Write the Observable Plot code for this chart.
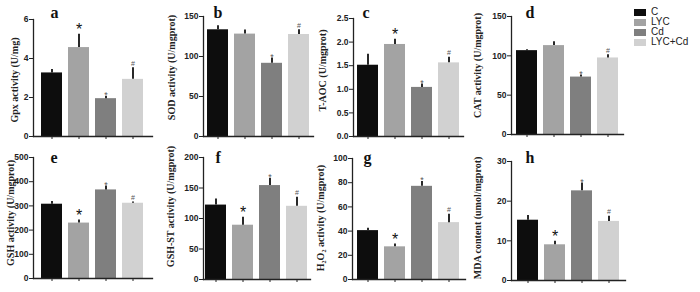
<!DOCTYPE html>
<html>
<head>
<meta charset="utf-8">
<script src="https://cdn.jsdelivr.net/npm/d3@7"></script>
<script src="https://cdn.jsdelivr.net/npm/@observablehq/plot@0.6"></script>
<style>
  body { margin: 0; background: #fff; }
  #wrap { position: relative; width: 700px; height: 292px; overflow: hidden; background: #fff; }
  #legend { position: absolute; left: 634px; top: 7px; font-family: "Liberation Sans", Arial, sans-serif; font-size: 10px; line-height: 10px; color: #222; }
  #legend .row { display: flex; align-items: center; height: 10px; }
  #legend .sw { width: 12px; height: 7px; margin-right: 5px; }
  #legend span { display: block; height: 10px; line-height: 10px; }
</style>
</head>
<body>
<div id="wrap"><div id="legend"></div></div>
<script>
// ---- data ----
const groups = ["C", "LYC", "Cd", "LYC+Cd"];
const fills = ["#0d0d0d", "#a3a3a3", "#7f7f7f", "#d1d1d1"];
const panelLetters = ["a", "b", "c", "d", "e", "f", "g", "h"];
const yTitles = [
  "Gpx activity (U/mg)",
  "SOD activity (U/mgprot)",
  "T-AOC (U/mgprot)",
  "CAT activity (U/mgprot)",
  "GSH activity (U/mgprot)",
  "GSH-ST activity (U/mgprot)",
  "H\u2082O\u2082 activity (U/mgprot)",
  "MDA content (umol/mgprot)"
];

const gpxMean = [3.26, 4.56, 1.94, 2.93];
const gpxErr  = [0.17, 0.69, 0.13, 0.59];
const gpxSig  = ["", "*", "*", "#"];
const gpxTicks = [0, 2, 4, 6];

const sodMean = [133.4, 128.0, 91.5, 127.5];
const sodErr  = [5.0, 5.0, 6.5, 6.0];
const sodSig  = ["", "", "*", "#"];
const sodTicks = [0, 50, 100, 150];

const taocMean = [1.51, 1.95, 1.04, 1.56];
const taocErr  = [0.23, 0.11, 0.07, 0.12];
const taocSig  = ["", "*", "*", "#"];
const taocTicks = [0, 0.5, 1.0, 1.5, 2.0, 2.5];

const catMean = [106.6, 113.0, 73.0, 97.3];
const catErr  = [1.0, 5.0, 2.5, 4.0];
const catSig  = ["", "", "*", "#"];
const catTicks = [0, 50, 100, 150];

const gshMean = [307, 229, 366, 311];
const gshErr  = [11, 13, 16, 5];
const gshSig  = ["", "*", "*", "#"];
const gshTicks = [0, 100, 200, 300, 400, 500];

const gstMean = [122, 89, 154, 120];
const gstErr  = [10, 13, 12, 15];
const gstSig  = ["", "*", "*", "#"];
const gstTicks = [0, 50, 100, 150, 200];

const h2o2Mean = [40.4, 27.0, 77.0, 47.0];
const h2o2Err  = [2.0, 2.3, 4.0, 7.0];
const h2o2Sig  = ["", "*", "*", "#"];
const h2o2Ticks = [0, 20, 40, 60, 80, 100];

const mdaMean = [15.2, 9.0, 22.6, 14.9];
const mdaErr  = [1.2, 0.9, 2.0, 1.3];
const mdaSig  = ["", "*", "*", "#"];
const mdaTicks = [0, 10, 20, 30];

const means = [gpxMean, sodMean, taocMean, catMean, gshMean, gstMean, h2o2Mean, mdaMean];
const errs  = [gpxErr, sodErr, taocErr, catErr, gshErr, gstErr, h2o2Err, mdaErr];
const sigs  = [gpxSig, sodSig, taocSig, catSig, gshSig, gstSig, h2o2Sig, mdaSig];
const ticks = [gpxTicks, sodTicks, taocTicks, catTicks, gshTicks, gstTicks, h2o2Ticks, mdaTicks];
const tickFmts = [null, null, ".1f", null, null, null, null, null];

// ---- layout (pixels) ----
const layout = [
  {row: 0, axisX: 33,  ml: 33, F: 119, po: 0.25,  top: 19, zero: 136, ldx: -19, ldy: 2,   tdx: 17},
  {row: 0, axisX: 203, ml: 40, F: 110, po: 0.08,  top: 16, zero: 136, ldx: -32, ldy: -9,  tdx: 10},
  {row: 0, axisX: 353, ml: 40, F: 110, po: 0.145, top: 18, zero: 136, ldx: -31, ldy: -7,  tdx: 9},
  {row: 0, axisX: 511, ml: 40, F: 112, po: 0.13,  top: 16, zero: 134, ldx: -34, ldy: -10, tdx: 14},
  {row: 1, axisX: 33,  ml: 33, F: 119, po: 0.25,  top: 11, zero: 132, ldx: -23, ldy: -5,  tdx: 17},
  {row: 1, axisX: 203, ml: 40, F: 107, po: 0.09,  top: 11, zero: 133, ldx: -33, ldy: -12, tdx: 12},
  {row: 1, axisX: 352, ml: 40, F: 113, po: 0.18,  top: 12, zero: 133, ldx: -32, ldy: -1,  tdx: 11},
  {row: 1, axisX: 511, ml: 40, F: 114, po: 0.22,  top: 15, zero: 134, ldx: -34, ldy: -3,  tdx: 14}
];
const titleBaseline = [17, 16];

const wrap = document.getElementById("wrap");
const H = 146;
const serif = "'Liberation Serif', 'Times New Roman', serif";

panelLetters.forEach((id, i) => {
  const L = layout[i];
  const data = groups.map((g, j) => ({g, v: means[i][j], e: errs[i][j], s: sigs[i][j]}));
  const T = ticks[i];
  const width = L.ml + L.F + 4;
  const svg = Plot.plot({
    width, height: H,
    marginLeft: L.ml, marginRight: 4, marginTop: L.top, marginBottom: H - L.zero,
    style: {fontFamily: "'Liberation Sans', Arial, sans-serif", background: "transparent", overflow: "visible", color: "#222"},
    x: {domain: groups, paddingInner: 0.22, paddingOuter: L.po, axis: null},
    y: {domain: [0, T[T.length - 1]], axis: null},
    color: {domain: groups, range: fills},
    marks: [
      Plot.barY(data, {x: "g", y: "v", fill: "g"}),
      Plot.ruleX(data, {x: "g", y1: "v", y2: d => d.v + d.e, stroke: "#111", strokeWidth: 1.8}),
      Plot.ruleY(data, {x: "g", y: d => d.v + d.e, insetLeft: 7, insetRight: 7, stroke: "#111", strokeWidth: 1.8}),
      Plot.text(data, {filter: d => d.s === "*" && d.g === "LYC", x: "g", y: d => d.v + d.e, text: "s", lineAnchor: "bottom", dy: 1, fontSize: 16, fill: "#111"}),
      Plot.text(data, {filter: d => d.s === "*" && d.g !== "LYC", x: "g", y: d => d.v + d.e, text: "s", lineAnchor: "bottom", dy: 2, fontSize: 9, fill: "#555"}),
      Plot.text(data, {filter: d => d.s === "#", x: "g", y: d => d.v + d.e, text: "s", lineAnchor: "bottom", dy: -2, fontSize: 7, fill: "#555"}),
      Plot.frame({anchor: "left", stroke: "#222", strokeWidth: 1.3}),
      Plot.frame({anchor: "bottom", stroke: "#222", strokeWidth: 1.3}),
      Plot.axisY({ticks: T, tickSize: 4, tickPadding: 1, tickFormat: tickFmts[i] ? d3.format(tickFmts[i]) : (d => String(d)), fontSize: 8.5, fontWeight: "bold", label: null, stroke: "#222"}),
      Plot.axisX({tickSize: 3, tickFormat: () => "", label: null, stroke: "#222"}),
      Plot.text([yTitles[i]], {frameAnchor: "left", rotate: -90, dx: L.ldx, dy: L.ldy, lineAnchor: "middle", textAnchor: "middle", fontFamily: serif, fontWeight: "bold", fontSize: 10, fill: "#222"}),
      Plot.text([id], {frameAnchor: "top-left", dx: L.tdx, dy: titleBaseline[L.row] - L.top, lineAnchor: "bottom", textAnchor: "start", fontFamily: serif, fontWeight: "bold", fontSize: 16, fill: "#111"})
    ]
  });
  svg.style.position = "absolute";
  svg.style.left = (L.axisX - L.ml) + "px";
  svg.style.top = (L.row * H) + "px";
  wrap.appendChild(svg);
});

// legend
const legend = d3.select("#legend");
groups.forEach((g, j) => {
  const row = legend.append("div").attr("class", "row");
  row.append("div").attr("class", "sw").style("background", fills[j]);
  row.append("span").text(g);
});
</script>
</body>
</html>
